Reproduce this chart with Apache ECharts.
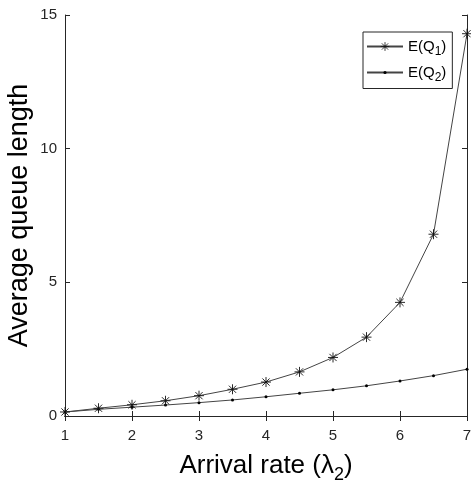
<!DOCTYPE html>
<html>
<head>
<meta charset="utf-8">
<script src="https://cdn.jsdelivr.net/npm/echarts@6/dist/echarts.min.js"></script>
<style>
html, body { margin: 0; padding: 0; background: #fff; }
#chart { width: 471px; height: 486px; }
</style>
</head>
<body>
<div id="chart"></div>
<script>
var arrivalRate = [1, 1.5, 2, 2.5, 3, 3.5, 4, 4.5, 5, 5.5, 6, 6.5, 7];
var queue1 = [0.15, 0.29, 0.42, 0.57, 0.76, 1.0, 1.27, 1.65, 2.19, 2.95, 4.25, 6.8, 14.3];
var queue2 = [0.15, 0.25, 0.33, 0.41, 0.5, 0.6, 0.72, 0.85, 0.98, 1.13, 1.31, 1.51, 1.75];
var xTicks = [1, 7, 1];
var yTicks = [0, 15, 5];

var axisGray = '#262626';
var lineGray = '#444';
var starPath = 'path://M0,-1L0,1M-1,0L1,0M-0.72,-0.72L0.72,0.72M-0.72,0.72L0.72,-0.72';

function pairs(xs, ys) {
	var out = [];
	for (var i = 0; i < xs.length; i++) {
		out.push([xs[i], ys[i]]);
	}
	return out;
}

var tickStyle = { inside: true, length: 5, lineStyle: { color: axisGray } };
var lineStyleAx = { lineStyle: { color: axisGray, width: 1 } };
var legendText = {
	fontSize: 15, color: '#000',
	rich: { sub: { fontSize: 12, verticalAlign: 'bottom', padding: [10, 0, 0, 0], color: '#000' } }
};
function legendFmt(name) {
	return name === 'q1' ? 'E(Q{sub|1})' : 'E(Q{sub|2})';
}

var option = {
	animation: false,
	textStyle: { fontFamily: 'Liberation Sans' },
	grid: { left: 65, right: 4, top: 15, bottom: 70, outerBoundsMode: 'none' },
	legend: [{
		// outer box + first entry
		orient: 'vertical',
		left: 363,
		top: 32,
		padding: [7, 6, 31, 3],
		itemWidth: 36,
		itemHeight: 11,
		itemGap: 4,
		borderColor: axisGray,
		borderWidth: 1,
		backgroundColor: '#fff',
		itemStyle: { borderWidth: 0.8 },
		textStyle: legendText,
		formatter: legendFmt,
		data: ['q1']
	}, {
		orient: 'vertical',
		left: 366,
		top: 65,
		padding: 0,
		itemWidth: 36,
		itemHeight: 4,
		itemGap: 4,
		textStyle: legendText,
		formatter: legendFmt,
		data: ['q2']
	}],
	xAxis: [{
		type: 'value',
		min: xTicks[0], max: xTicks[1], interval: xTicks[2],
		name: 'Arrival rate (λ{sub|2})',
		nameLocation: 'middle',
		nameMoveOverlap: false,
		nameGap: 32,
		nameTextStyle: {
			fontSize: 26, color: '#000',
			rich: { sub: { fontSize: 18, verticalAlign: 'bottom', padding: [18, 0, 0, 0], color: '#000' } }
		},
		axisLine: lineStyleAx,
		axisTick: tickStyle,
		axisLabel: { fontSize: 15, color: axisGray, margin: 12 },
		splitLine: { show: false }
	}, {
		type: 'value', position: 'top',
		min: xTicks[0], max: xTicks[1], interval: xTicks[2],
		axisLine: lineStyleAx,
		axisTick: tickStyle,
		axisLabel: { show: false },
		splitLine: { show: false }
	}],
	yAxis: [{
		type: 'value',
		min: yTicks[0], max: yTicks[1], interval: yTicks[2],
		name: 'Average queue length',
		nameLocation: 'middle',
		nameMoveOverlap: false,
		nameGap: 32,
		nameTextStyle: { fontSize: 27, color: '#000' },
		axisLine: lineStyleAx,
		axisTick: tickStyle,
		axisLabel: { fontSize: 15, color: axisGray, margin: 8 },
		splitLine: { show: false }
	}, {
		type: 'value', position: 'right',
		min: yTicks[0], max: yTicks[1], interval: yTicks[2],
		axisLine: lineStyleAx,
		axisTick: tickStyle,
		axisLabel: { show: false },
		splitLine: { show: false }
	}],
	series: [{
		name: 'q1',
		type: 'line',
		data: pairs(arrivalRate, queue1),
		symbol: starPath,
		symbolSize: 10,
		showAllSymbol: true,
		lineStyle: { color: lineGray, width: 1 },
		itemStyle: { color: '#111', borderColor: '#111', borderWidth: 0.9 },
		z: 3
	}, {
		name: 'q2',
		type: 'line',
		data: pairs(arrivalRate, queue2),
		symbol: 'circle',
		symbolSize: 3,
		showAllSymbol: true,
		lineStyle: { color: lineGray, width: 1 },
		itemStyle: { color: '#000', borderWidth: 0 },
		z: 2
	}]
};

var chart = echarts.init(document.getElementById('chart'));
chart.setOption(option);
</script>
</body>
</html>
